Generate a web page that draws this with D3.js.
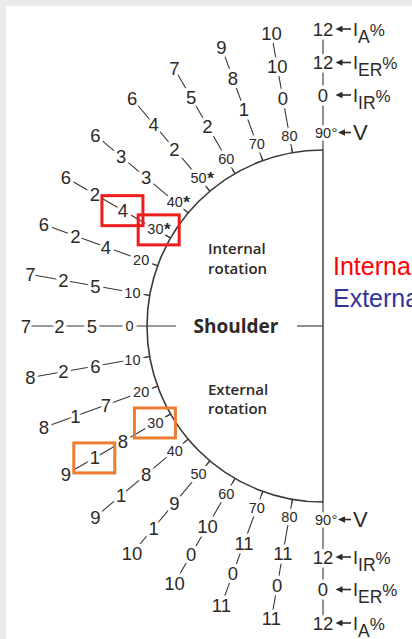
<!DOCTYPE html>
<html>
<head>
<meta charset="utf-8">
<script src="https://cdn.jsdelivr.net/npm/d3@7"></script>
<style>
  html, body { margin: 0; padding: 0; background: #ebebeb; overflow: hidden; }
  svg { display: block; }
</style>
</head>
<body>
<svg id="chart" width="412" height="639"></svg>
<script>
// angle of the arm, degrees from horizontal
const angles = [0, 10, 20, 30, 40, 50, 60, 70, 80, 90]

// upper half - internal rotation
const intIR = [5, 5, 4, 4, 3, 2, 2, 1, 0, 0]
const intER = [2, 2, 2, 2, 3, 4, 5, 8, 10, 12]
const intA = [7, 7, 6, 6, 6, 6, 7, 9, 10, 12]

// lower half - external rotation
const extIR = [5, 6, 7, 8, 8, 9, 10, 11, 11, 12]
const extER = [2, 2, 1, 1, 1, 1, 0, 0, 0, 0]
const extA = [7, 8, 8, 9, 9, 10, 10, 11, 11, 12]

const starred = [30, 40, 50]
const rings = ['V', 'IR', 'ER', 'A']
const ringSubs = ['', 'IR', 'ER', 'A']

// boxed labels: [side, angle, ring]
const redMarks = [[-1, 30, 'IR'], [-1, 30, 'V']]
const orangeMarks = [[1, 30, 'V'], [1, 30, 'ER']]

const ink = '#2d2926'
const numFont = '"Liberation Sans", Arial, sans-serif'
const capFont = '"Open Sans", "Noto Sans", sans-serif'

const svg = d3.select('#chart')
const cx = 323
const cy = 326
const R = 176

const angle = d3.scaleLinear().domain([0, 90]).range([0, Math.PI / 2])
const radius = d3.scaleOrdinal().domain(rings).range([193.5, 231, 263.5, 297])

function pos (side, deg, r) {
  const a = angle(deg)
  return [cx - r * Math.cos(a), cy + side * r * Math.sin(a)]
}

/* White page */
svg.append('rect')
  .attr('x', 6).attr('y', 6)
  .attr('width', 406).attr('height', 633)
  .attr('fill', '#fff')

const rows = []
angles.forEach((deg, i) => {
  rows.push({ side: -1, deg, vals: [intIR[i], intER[i], intA[i]] })
  if (deg > 0) rows.push({ side: 1, deg, vals: [extIR[i], extER[i], extA[i]] })
})

/* Rays (the label gaps come from the white halos) */
const rays = svg.append('g').attr('stroke', '#3a3633').attr('stroke-width', 1.1)
rows.forEach(d => {
  const p0 = pos(d.side, d.deg, d.deg === 0 ? 147 : R)
  const p1 = pos(d.side, d.deg, radius('A'))
  rays.append('line')
    .attr('x1', p0[0]).attr('y1', p0[1])
    .attr('x2', p1[0]).attr('y2', p1[1])
})

/* Labels */
const labels = svg.append('g')
const labelNodes = {}
function halo (sel) {
  return sel.attr('stroke', '#fff').attr('stroke-width', 7)
    .attr('stroke-linejoin', 'round').attr('paint-order', 'stroke')
}

rows.forEach(d => {
  rings.forEach((ring, j) => {
    const p = pos(d.side, d.deg, radius(ring))
    const g = labels.append('g')
    const isTick = ring === 'V'
    const t = halo(g.append('text'))
      .attr('x', p[0]).attr('y', p[1])
      .attr('dy', '0.36em')
      .attr('text-anchor', 'middle')
      .attr('font-family', numFont)
      .attr('font-size', isTick ? 14.5 : 18.5)
      .attr('fill', ink)
      .text(isTick ? d.deg : d.vals[j - 1])
    let suffix = null
    if (isTick && d.deg === 90) suffix = '°'
    if (isTick && d.side < 0 && starred.includes(d.deg)) suffix = '*'
    if (suffix) {
      const w = t.node().getComputedTextLength()
      g.append('text')
        .attr('x', p[0] + w / 2 + 0.5).attr('y', p[1])
        .attr('dy', '0.36em')
        .attr('font-family', numFont)
        .attr('font-size', suffix === '*' ? 17 : 15)
        .attr('font-weight', suffix === '*' ? 'bold' : 'normal')
        .attr('fill', ink)
        .text(suffix)
    }
    labelNodes[d.side + '_' + d.deg + '_' + ring] = g
  })
})

/* Semicircle, ticks, diameter */
const frame = svg.append('g').attr('stroke', '#3a3633').attr('fill', 'none')
const arcPath = d3.path()
arcPath.arc(cx, cy, R, Math.PI / 2, Math.PI * 1.5)
frame.append('path').attr('d', arcPath.toString()).attr('stroke-width', 1.6)

angles.filter(a => a > 0 && a < 90).forEach(deg => {
  [-1, 1].forEach(side => {
    const p0 = pos(side, deg, R)
    const p1 = pos(side, deg, R + 5)
    frame.append('line')
      .attr('x1', p0[0]).attr('y1', p0[1])
      .attr('x2', p1[0]).attr('y2', p1[1])
      .attr('stroke-width', 1.1)
  })
})

frame.append('line')
  .attr('x1', cx).attr('y1', cy - R)
  .attr('x2', cx).attr('y2', cy + R)
  .attr('stroke-width', 1.4)

frame.append('line')
  .attr('x1', cx - 26).attr('y1', cy)
  .attr('x2', cx).attr('y2', cy)
  .attr('stroke-width', 1.1)

/* Inside captions */
svg.append('text')
  .attr('x', 236).attr('y', cy).attr('dy', '0.36em')
  .attr('text-anchor', 'middle')
  .attr('font-family', capFont).attr('font-weight', 700)
  .attr('font-size', 19).attr('fill', ink)
  .text('Shoulder')

const captions = [['Internal', 253.5], ['rotation', 274], ['External', 394.5], ['rotation', 414]]
captions.forEach(c => {
  svg.append('text')
    .attr('x', 208).attr('y', c[1])
    .attr('font-family', capFont).attr('font-weight', 600)
    .attr('font-size', 15).attr('fill', ink)
    .text(c[0])
})

/* Ring legend beside the 90 degree rows */
const legend = svg.append('g').attr('fill', ink)
;[-1, 1].forEach(side => {
  rings.forEach((ring, j) => {
    const y = cy + side * radius(ring)
    const tip = ring === 'V' ? 338 : 335.5
    legend.append('path')
      .attr('d', `M${tip},${y} L${tip + 7},${y - 3.3} L${tip + 7},${y + 3.3} Z`)
    legend.append('line')
      .attr('x1', tip + 6).attr('y1', y)
      .attr('x2', 351).attr('y2', y)
      .attr('stroke', ink).attr('stroke-width', 1.6)
    const t = legend.append('text')
      .attr('x', 353).attr('y', y)
      .attr('font-family', numFont)
    if (ring === 'V') {
      t.attr('dy', '0.36em').attr('font-size', 22).text('V')
    } else {
      t.attr('dy', 6.5).attr('font-size', 18)
      t.append('tspan').text('I')
      t.append('tspan').attr('dy', 7).attr('font-size', 17.5).text(ringSubs[j])
      t.append('tspan').attr('dy', -7).attr('font-size', 17).text('%')
    }
  })
})

/* Coloured side titles (run off the page edge) */
svg.append('text')
  .attr('x', 333).attr('y', 275)
  .attr('font-family', numFont).attr('font-size', 25)
  .attr('fill', '#ff0000')
  .text('Internal')
svg.append('text')
  .attr('x', 333).attr('y', 307)
  .attr('font-family', numFont).attr('font-size', 25)
  .attr('fill', '#33339a')
  .text('External')

/* Highlight boxes */
function boxes (marks, colour) {
  marks.forEach(m => {
    const b = labelNodes[m[0] + '_' + m[1] + '_' + m[2]].node().getBBox()
    const mx = b.x + b.width / 2
    const my = b.y + b.height / 2
    svg.append('rect')
      .attr('x', mx - 21).attr('y', my - 15)
      .attr('width', 41).attr('height', 30)
      .attr('fill', 'none')
      .attr('stroke', colour).attr('stroke-width', 3)
  })
}
boxes(redMarks, '#ee1c1c')
boxes(orangeMarks, '#ed7d31')
</script>
</body>
</html>
